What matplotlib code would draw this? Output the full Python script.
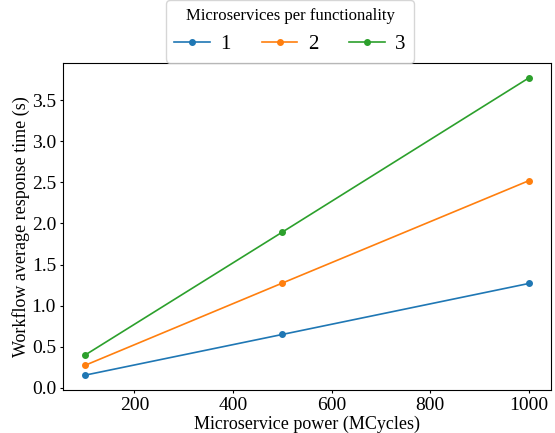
import matplotlib.pyplot as plt

plt.rcParams['font.family'] = ['Liberation Serif', 'DejaVu Serif']
plt.rcParams['font.size'] = 13

power = [100, 500, 1000]
labels = ["1", "2", "3"]
response = [
    [0.155, 0.65, 1.27],
    [0.275, 1.275, 2.52],
    [0.40, 1.895, 3.77],
]
yticks = [0.0, 0.5, 1.0, 1.5, 2.0, 2.5, 3.0, 3.5]

fig, ax = plt.subplots(figsize=(5.55, 4.33), dpi=100)

for lab, vals in zip(labels, response):
    ax.plot(power, vals, marker="o", markersize=4, linewidth=1.2, label=lab)

ax.set_xlabel("Microservice power (MCycles)", fontsize=13, labelpad=1)
ax.set_ylabel("Workflow average response time (s)", fontsize=13, labelpad=1)
ax.set_xticks([200, 400, 600, 800, 1000])
ax.set_yticks(yticks)
ax.tick_params(labelsize=14, length=2.5, pad=2.5)

leg = ax.legend(title="Microservices per functionality", ncol=3, loc="lower center",
                bbox_to_anchor=(0.465, 1.0), fontsize=15, title_fontsize=12,
                handlelength=1.7, handletextpad=0.5, columnspacing=1.5,
                borderaxespad=0.02)

fig.subplots_adjust(left=0.1135, right=0.993, top=0.8545, bottom=0.0993)
fig.savefig("out.png")
